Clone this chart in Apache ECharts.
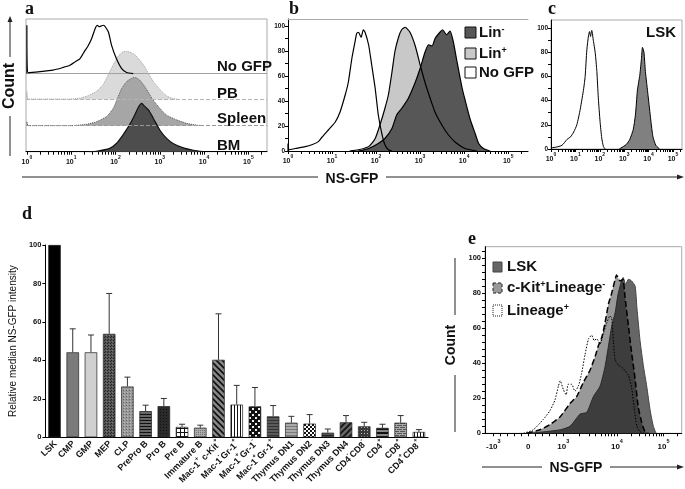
<!DOCTYPE html>
<html><head><meta charset="utf-8">
<script src="https://cdn.jsdelivr.net/npm/echarts@6.0.0/dist/echarts.min.js"></script>
<style>html,body{margin:0;padding:0;background:#fff}#c{width:685px;height:489px}</style>
</head><body><div id="c"></div>
<script>
// ================= DATA =================
// log10 fluorescence decades shown on panels a-c
const logTicks = [0, 1, 2, 3, 4, 5];
const logTickLabels = ['10⁰', '10¹', '10²', '10³', '10⁴', '10⁵'];
// panel a : [log10 NS-GFP, % of mode]
const aNoGfp = [[0,0],[0,100],[0.03,2],[0.3,4],[0.59,7],[0.8,12],[0.97,17],[1.1,25],[1.2,31],[1.3,46],[1.38,57],[1.46,72],[1.54,93],[1.59,100],[1.63,97],[1.69,99],[1.73,100],[1.76,98],[1.84,86],[1.91,59],[2.02,31],[2.14,10],[2.25,2],[2.4,0]];
const aPB = [[0,0],[0,18],[0.03,1],[0.97,1],[1.2,3],[1.35,7],[1.57,17],[1.72,31],[1.84,52],[1.95,72],[2.06,90],[2.17,99],[2.25,100],[2.36,97],[2.45,92],[2.51,86],[2.63,72],[2.74,55],[2.85,38],[3.0,21],[3.15,8],[3.3,2],[3.45,0]];
const aSpleen = [[0,0],[0,8],[0.03,0],[1.0,0],[1.35,3],[1.57,8],[1.8,19],[1.95,36],[2.06,60],[2.14,77],[2.25,91],[2.36,98],[2.44,100],[2.55,94],[2.66,81],[2.78,63],[2.85,53],[3.0,36],[3.15,22],[3.38,12],[3.6,5],[3.83,1],[3.98,0]];
const aBM = [[1.4,0],[1.57,1],[1.87,7],[2.02,17],[2.17,35],[2.32,56],[2.44,77],[2.51,91],[2.59,100],[2.66,94],[2.74,87],[2.85,70],[3.0,45],[3.15,28],[3.3,17],[3.53,8],[3.76,3],[3.98,0]];
// panel b
const bNoGfp = [[0,0],[0,6],[0.03,1],[0.16,2],[0.39,3.5],[0.54,5],[0.69,7.5],[0.77,11],[0.92,17],[1.07,23],[1.18,31],[1.3,45],[1.37,55],[1.45,74],[1.52,87],[1.56,94],[1.6,95],[1.66,91],[1.71,97],[1.75,95],[1.83,85],[1.9,69],[1.98,50],[2.05,29],[2.13,14],[2.2,5],[2.28,1],[2.36,0]];
const bLinPos = [[1.4,0],[1.6,1],[1.83,3.5],[1.98,10],[2.09,21],[2.2,34],[2.28,45],[2.36,63],[2.43,80],[2.51,91],[2.58,97],[2.66,99],[2.77,95],[2.89,84],[3.0,69],[3.11,55],[3.23,42],[3.34,31],[3.49,21],[3.64,13],[3.8,7],[4.02,2],[4.29,0]];
const bLinNeg = [[1.6,0],[1.83,2],[2.05,6],[2.2,10],[2.36,18],[2.47,29],[2.58,34],[2.73,42],[2.89,55],[3.0,66],[3.11,79],[3.19,85],[3.27,84],[3.34,90],[3.45,95],[3.51,97],[3.6,93],[3.68,96],[3.75,88],[3.83,73],[3.95,51],[4.02,41],[4.14,25],[4.25,14],[4.33,6],[4.44,2],[4.59,0]];
// panel c
const cNoGfp = [[0,0],[0.05,1],[0.2,1.5],[0.45,3],[0.66,8],[0.8,10],[0.93,14],[1.06,20],[1.2,33],[1.34,50],[1.4,60],[1.47,82],[1.54,94],[1.58,97],[1.62,93],[1.67,98],[1.74,89],[1.81,80],[1.88,64],[1.94,42],[2.01,23],[2.08,9],[2.15,2],[2.22,0]];
const cLsk = [[2.8,0],[2.96,2],[3.1,4],[3.23,8],[3.37,16],[3.46,28],[3.54,48],[3.6,56],[3.64,61],[3.71,75],[3.75,84],[3.81,80],[3.87,64],[3.98,44],[4.09,24],[4.18,10],[4.3,3],[4.45,0]];
// panel d
const dCategories = ['LSK','CMP','GMP','MEP','CLP','PrePro B','Pro B','Pre B','Immature B','Mac-1⁺ c-Kit⁺','Mac-1⁻Gr-1⁺','Mac-1⁺Gr-1⁻','Mac-1⁺Gr-1⁺','Thymus DN1','Thymus DN2','Thymus DN3','Thymus DN4','CD4⁻CD8⁻','CD4⁺','CD8⁺','CD4⁺CD8⁺'];
const dValues = [100,44.2,44.2,53.8,26.4,13.6,16.2,5.4,5.0,40.3,17.0,16.1,10.9,7.6,7.1,2.4,7.8,5.7,4.9,7.6,2.8];
const dErrorTop = [null,56.4,53.2,74.8,31.3,16.7,20.2,6.8,6.3,64.2,27.0,25.9,16.5,10.9,11.8,4.3,11.3,7.8,6.8,11.3,4.0];
// panel e : [display position on biexponential axis, % of mode]
const eTickPos = [-1, 0, 1, 2.53, 3.86];
const eTickLabels = ['-10³', '0', '10³', '10⁴', '10⁵'];
const eLsk = [[0.05,0],[0.52,1],[0.91,2],[1.19,4],[1.48,11],[1.67,12],[1.86,21],[2.05,27],[2.19,38],[2.29,50],[2.38,61],[2.48,69],[2.57,80],[2.71,89],[2.78,85],[2.86,88],[2.95,87],[3.05,84],[3.1,72],[3.19,53],[3.29,38],[3.38,27],[3.48,13],[3.57,4],[3.65,0]];
const eCkit = [[-0.04,0],[0.33,2],[0.62,5],[0.91,9.5],[1.19,17],[1.38,21],[1.57,29],[1.76,36],[1.91,44],[2.0,50],[2.1,55],[2.19,63],[2.29,74],[2.38,80],[2.48,88],[2.52,90.5],[2.62,87],[2.7,88],[2.76,78],[2.86,61],[2.95,46],[3.05,31],[3.14,15],[3.24,6],[3.33,1],[3.43,0]];
const eLinPos = [[-0.14,0],[0.14,2],[0.43,8],[0.62,13],[0.76,19],[0.86,27],[0.91,30],[1.0,25],[1.08,22],[1.14,28],[1.24,28],[1.33,24],[1.43,27],[1.52,34],[1.62,45],[1.72,54],[1.81,56],[1.88,53],[1.95,54],[2.05,51],[2.14,57],[2.24,63],[2.33,67],[2.38,66],[2.43,52],[2.48,42],[2.57,39],[2.71,37],[2.86,33],[2.95,26],[3.02,15],[3.1,4],[3.19,1],[3.3,0]];
const countTicks = [0, 20, 40, 60, 80, 100];

// ================= STYLE HELPERS =================
const FONT = "'Liberation Sans', Arial, sans-serif";
const NARROW = "'Liberation Sans Narrow', 'Liberation Sans', Arial, sans-serif";
const SERIF = "'Liberation Serif', 'DejaVu Serif', serif";
const SUP = {'⁺':'+','⁻':'-','⁰':'0','¹':'1','²':'2','³':'3','⁴':'4','⁵':'5'};
function supRich(str){
  let out='', buf='';
  for (const ch of str){
    if (SUP[ch]!==undefined){ if(buf){out+='{n|'+buf+'}';buf='';} out+='{s|'+SUP[ch]+'}'; }
    else buf+=ch;
  }
  if (buf) out+='{n|'+buf+'}';
  return out;
}
const tickRich = {
  n:{fontSize:7, fontWeight:'bold', fontFamily:FONT, color:'#111', padding:[4,0,0,0]},
  s:{fontSize:5, fontWeight:'bold', fontFamily:FONT, color:'#111', verticalAlign:'top'}
};
const catRich = {
  n:{fontSize:9, fontWeight:'bold', fontFamily:FONT, color:'#111', padding:[3,0,0,0]},
  s:{fontSize:6, fontWeight:'bold', fontFamily:FONT, color:'#111', verticalAlign:'top'}
};
function shift(arr, off){ return arr.map(p => [p[0], p[1] + off]); }
function minorLog(max){ const r=[]; for(let n=0;n<6;n++) for(let k=2;k<10;k++){ const v=n+Math.log10(k); if(v<=max) r.push(v);} return r; }
function pat(w,h,fn){ const c=document.createElement('canvas'); c.width=w; c.height=h; const g=c.getContext('2d'); fn(g,w,h); return {image:c, repeat:'repeat'}; }
function fill(g,col,x,y,w,h){ g.fillStyle=col; g.fillRect(x,y,w,h); }
const dFills = [
  '#000', '#7b7b7b', '#d0d0d0',
  pat(3,3,g=>{fill(g,'#555',0,0,3,3);fill(g,'#222',0,0,1,1);fill(g,'#222',2,1,1,1);fill(g,'#777',1,2,1,1);}),
  pat(3,3,g=>{fill(g,'#999',0,0,3,3);fill(g,'#666',0,0,1,1);fill(g,'#bbb',1,2,1,1);}),
  pat(1,3,g=>{fill(g,'#666',0,0,1,3);fill(g,'#111',0,0,1,1);}),
  pat(3,3,g=>{fill(g,'#2a2a2a',0,0,3,3);fill(g,'#111',1,1,1,1);}),
  pat(4,4,g=>{fill(g,'#fff',0,0,4,4);fill(g,'#111',0,0,4,1);fill(g,'#111',0,0,1,4);}),
  pat(2,2,g=>{fill(g,'#aaa',0,0,2,2);fill(g,'#777',0,0,1,1);}),
  pat(6,6,g=>{fill(g,'#888',0,0,6,6);g.strokeStyle='#111';g.lineWidth=1.6;g.beginPath();g.moveTo(-1,-1);g.lineTo(7,7);g.moveTo(-4,2);g.lineTo(4,10);g.moveTo(2,-4);g.lineTo(10,4);g.stroke();}),
  pat(3,1,g=>{fill(g,'#fff',0,0,3,1);fill(g,'#111',0,0,1,1);}),
  pat(6,6,g=>{fill(g,'#111',0,0,6,6);fill(g,'#eee',0,0,2,2);fill(g,'#eee',3,3,2,2);}),
  pat(1,3,g=>{fill(g,'#5a5a5a',0,0,1,3);fill(g,'#333',0,0,1,1);}),
  pat(1,3,g=>{fill(g,'#aaa',0,0,1,3);fill(g,'#7a7a7a',0,0,1,1);}),
  pat(4,4,g=>{fill(g,'#fff',0,0,4,4);fill(g,'#111',0,0,2,2);fill(g,'#111',2,2,2,2);}),
  pat(1,3,g=>{fill(g,'#555',0,0,1,3);fill(g,'#222',0,0,1,1);}),
  pat(6,6,g=>{fill(g,'#666',0,0,6,6);g.strokeStyle='#111';g.lineWidth=1.6;g.beginPath();g.moveTo(-1,7);g.lineTo(7,-1);g.moveTo(-4,4);g.lineTo(4,-4);g.moveTo(2,10);g.lineTo(10,2);g.stroke();}),
  pat(3,3,g=>{fill(g,'#3a3a3a',0,0,3,3);fill(g,'#bbb',1,1,1,1);}),
  pat(1,4,g=>{fill(g,'#888',0,0,1,4);fill(g,'#111',0,0,1,2);}),
  pat(6,4,g=>{fill(g,'#555',0,0,6,4);fill(g,'#aaa',0,0,6,1);fill(g,'#aaa',0,0,1,2);fill(g,'#aaa',0,2,6,1);fill(g,'#aaa',3,2,1,2);}),
  pat(3,1,g=>{fill(g,'#fff',0,0,3,1);fill(g,'#111',0,0,1,1);})
];
function baseline(v,type,color){ return {silent:true, symbol:'none', label:{show:false}, lineStyle:{color:color,type:type,width:1}, data:[{yAxis:v}], animation:false}; }
function logAxis(grid,min,max){
  return {type:'value', gridIndex:grid, position:'bottom', min:min, max:max,
    axisLine:{show:true, onZero:false, lineStyle:{color:'#000',width:1}},
    axisTick:{show:true, customValues:logTicks.concat(minorLog(max)), length:3, lineStyle:{color:'#000'}},
    axisLabel:{customValues:logTicks, margin:3, formatter:v=>supRich(logTickLabels[logTicks.indexOf(v)]||''), rich:tickRich},
    splitLine:{show:false}};
}
function countAxis(grid,max,fs,minor,margin){
  return {type:'value', gridIndex:grid, position:'left', min:0, max:max,
    axisLine:{show:true, onZero:false, lineStyle:{color:'#000',width:1}},
    axisTick:{show:true, customValues:countTicks.concat(minor), length:3, lineStyle:{color:'#000'}},
    axisLabel:{show:true, customValues:countTicks, fontSize:fs, fontWeight:'bold', fontFamily:FONT, color:'#111', margin:margin||3},
    splitLine:{show:false}};
}
const eMinor = [-0.8,-0.6,-0.4,-0.2,0.2,0.4,0.6,0.8];
[2,3,4,5,6,7,8,9].forEach(k=>{ eMinor.push(1+1.53*Math.log10(k)); eMinor.push(2.53+1.33*Math.log10(k)); });
eMinor.push(3.86+1.33*Math.log10(2), 3.86+1.33*Math.log10(3));

// ================= AXES =================
const grids = [
  {left:26, top:19, width:241, height:132.7, show:true, borderColor:'#aaa', borderWidth:1},
  {left:288, top:19, width:240, height:132},
  {left:551, top:20, width:131, height:129, show:true, borderColor:'#aaa', borderWidth:1},
  {left:41, top:245, width:387, height:192.3},
  {left:485, top:246.7, width:196.7, height:186.6, show:true, borderColor:'#aaa', borderWidth:1}
];
const xAxes = [
  logAxis(0,-0.02,5.42),
  logAxis(1,0,5.45),
  {type:'value', gridIndex:1, position:'top', min:0, max:5.45, axisLine:{show:true,onZero:false,lineStyle:{color:'#aaa'}}, axisTick:{show:false}, axisLabel:{show:false}, splitLine:{show:false}},
  logAxis(2,0,5.37),
  {type:'category', gridIndex:3, position:'bottom', data:dCategories,
    axisLine:{onZero:false, lineStyle:{color:'#000',width:1}},
    axisTick:{alignWithLabel:true, length:3, lineStyle:{color:'#000'}},
    axisLabel:{rotate:45, interval:0, margin:4, formatter:v=>supRich(v), rich:catRich}},
  {type:'value', gridIndex:4, position:'bottom', min:-1.237, max:4.38,
    axisLine:{show:true, onZero:false, lineStyle:{color:'#000',width:1}},
    axisTick:{show:true, customValues:eTickPos.concat(eMinor), length:3, lineStyle:{color:'#000'}},
    axisLabel:{customValues:eTickPos, margin:5, formatter:v=>supRich(eTickLabels[eTickPos.indexOf(v)]||''),
      rich:{n:{fontSize:8,fontWeight:'bold',fontFamily:FONT,color:'#111',padding:[4,0,0,0]}, s:{fontSize:5.5,fontWeight:'bold',fontFamily:FONT,color:'#111',verticalAlign:'top'}}},
    splitLine:{show:false}}
];
const yAxes = [
  {type:'value', gridIndex:0, position:'left', min:0, max:275, axisLine:{show:false,onZero:false}, axisTick:{show:false}, axisLabel:{show:false}, splitLine:{show:false}},
  countAxis(1,105.6,6.5,[10,30,50,70,90]),
  countAxis(2,106.6,6.5,[10,30,50,70,90]),
  {type:'value', gridIndex:3, position:'left', min:0, max:100, interval:20,
    axisLine:{show:true, onZero:false, lineStyle:{color:'#000',width:1}},
    axisTick:{show:true, length:3, lineStyle:{color:'#000'}},
    axisLabel:{fontSize:7.5, fontWeight:'bold', fontFamily:FONT, color:'#111', margin:4},
    splitLine:{show:false},
    name:'Relative median NS-GFP intensity', nameLocation:'middle', nameGap:16, nameRotate:90,
    nameTextStyle:{fontSize:10, fontFamily:FONT, color:'#111'}},
  countAxis(4,106.6,7.5,[4,8,12,16,24,28,32,36,44,48,52,56,64,68,72,76,84,88,92,96,104],4)
];

// ================= SERIES =================
const S = [];
const L = (o)=>Object.assign({type:'line', symbol:'none', smooth:0.2, silent:true}, o);
// panel a
S.push(L({name:'PB', xAxisIndex:0, yAxisIndex:0, data:shift(aPB,108), z:2,
  lineStyle:{color:'#a0a0a0',width:1,type:'dotted'}, areaStyle:{color:'#dadada',opacity:1,origin:108},
  markLine:baseline(108,'dashed','#b5b5b5')}));
S.push(L({name:'Spleen', xAxisIndex:0, yAxisIndex:0, data:shift(aSpleen,54), z:3,
  lineStyle:{color:'#555',width:1,type:'dotted'}, areaStyle:{color:'#a6a6a6',opacity:1,origin:54},
  markLine:baseline(54,'dashed','#999')}));
S.push(L({name:'BM', xAxisIndex:0, yAxisIndex:0, data:aBM, z:4,
  lineStyle:{color:'#111',width:1.2}, areaStyle:{color:'#4d4d4d',opacity:1,origin:0}}));
S.push(L({name:'No GFP', xAxisIndex:0, yAxisIndex:0, data:shift(aNoGfp,162), z:6,
  lineStyle:{color:'#000',width:1.2}, markLine:baseline(162,'solid','#a0a0a0')}));
// panel b
S.push(L({name:'Lin+', xAxisIndex:1, yAxisIndex:1, data:bLinPos, z:2, lineStyle:{width:0,opacity:0}, areaStyle:{color:'#c8c8c8',opacity:1}}));
S.push(L({name:'Lin-', xAxisIndex:1, yAxisIndex:1, data:bLinNeg, z:3, lineStyle:{width:0,opacity:0}, areaStyle:{color:'#575757',opacity:1}}));
[bNoGfp,bLinPos,bLinNeg].forEach((d,i)=>S.push(L({name:'b-outline-'+i, xAxisIndex:1, yAxisIndex:1, data:d, z:5, lineStyle:{color:'#000',width:1.2}})));
// panel c
S.push(L({name:'LSK', xAxisIndex:3, yAxisIndex:2, data:cLsk, z:2, lineStyle:{color:'#000',width:1}, areaStyle:{color:'#808080',opacity:1}}));
S.push(L({name:'No GFP (c)', xAxisIndex:3, yAxisIndex:2, data:cNoGfp, z:3, lineStyle:{color:'#000',width:1}}));
// panel d
S.push({type:'bar', name:'NS-GFP', xAxisIndex:4, yAxisIndex:3, barWidth:12.5, silent:true,
  data:dValues.map((v,i)=>({value:v, itemStyle:{color:dFills[i], borderColor:'#222', borderWidth:0.7}})), z:2});
S.push({type:'custom', name:'error', xAxisIndex:4, yAxisIndex:3, silent:true, z:3,
  encode:{x:0, y:2},
  data:dErrorTop.map((t,i)=>[i, dValues[i], t]).filter(d=>d[2]!==null),
  renderItem:function(params, api){
    const x=api.value(0), v=api.value(1), t=api.value(2);
    const p0=api.coord([x,v]), p1=api.coord([x,t]);
    const st={stroke:'#333', lineWidth:1};
    return {type:'group', children:[
      {type:'line', shape:{x1:p0[0],y1:p0[1],x2:p1[0],y2:p1[1]}, style:st},
      {type:'line', shape:{x1:p1[0]-3,y1:p1[1],x2:p1[0]+3,y2:p1[1]}, style:st}
    ]};
  }});
// panel e
S.push(L({name:'LSK (e)', xAxisIndex:5, yAxisIndex:4, data:eLsk, z:2, lineStyle:{color:'#444',width:1}, areaStyle:{color:'#666',opacity:1}}));
S.push(L({name:'c-Kit+Lineage-', xAxisIndex:5, yAxisIndex:4, data:eCkit, z:3, lineStyle:{width:0,opacity:0}, areaStyle:{color:'rgba(0,0,0,0.4)',opacity:1}}));
S.push(L({name:'c-Kit+Lineage- outline', xAxisIndex:5, yAxisIndex:4, data:eCkit, z:4, lineStyle:{color:'#000',width:1.5,type:[6,3]}}));
S.push(L({name:'Lineage+', xAxisIndex:5, yAxisIndex:4, data:eLinPos, z:5, lineStyle:{color:'#000',width:1,type:[1.5,1.5]}}));

// ================= GRAPHICS (titles / legends / arrows) =================
const big = (size)=>'bold '+size+'px '+NARROW;
const txt = (x,y,text,font,extra)=>Object.assign({type:'text', x:x, y:y, silent:true, style:Object.assign({text:text, font:font, fill:'#111', textAlign:'left', textVerticalAlign:'middle'}, extra&&extra.style||{})}, extra&&extra.el||{});
const line = (x1,y1,x2,y2,color,w)=>({type:'line', silent:true, shape:{x1,y1,x2,y2}, style:{stroke:color||'#222', lineWidth:w||1}});
const arrow = (x,y,dir)=>({type:'polygon', silent:true, shape:{points: dir==='up'?[[x,y],[x-2.5,y+6],[x+2.5,y+6]]:[[x,y],[x-7,y-2.5],[x-7,y+2.5]]}, style:{fill:'#222'}});
const legRich = {n:{font:big(15), fill:'#111'}, s:{font:'bold 9px '+NARROW, fill:'#111', verticalAlign:'top'}};
const rtxt = (x,y,text)=>({type:'text', x:x, y:y, silent:true, style:{text:supRich(text), rich:legRich, textAlign:'left', textVerticalAlign:'middle'}});
const graphic = [
  txt(25,9,'a','bold 18px '+SERIF), txt(289,9,'b','bold 18px '+SERIF), txt(548,9,'c','bold 18px '+SERIF),
  txt(22,214,'d','bold 18px '+SERIF), txt(468,239,'e','bold 18px '+SERIF),
  // panel a texts
  txt(217,67,'No GFP',big(15)), txt(217,94,'PB',big(15)), txt(217,119,'Spleen',big(15)), txt(217,146,'BM',big(15)),
  txt(10,86,'Count',big(16),{style:{textAlign:'center'}, el:{rotation:Math.PI/2}}),
  line(10,22,10,57), arrow(10,16,'up'), line(10,116,10,156),
  // shared NS-GFP axis a-c
  txt(352,179,'NS-GFP',big(14),{style:{textAlign:'center'}}),
  line(22,177,318,177), line(386,177,677,177), arrow(684,177,'right'),
  // panel b legend
  {type:'rect', silent:true, shape:{x:465,y:27,width:11,height:11}, style:{fill:'#575757',stroke:'#111',lineWidth:1}},
  {type:'rect', silent:true, shape:{x:465,y:48,width:11,height:11}, style:{fill:'#c8c8c8',stroke:'#111',lineWidth:1}},
  {type:'rect', silent:true, shape:{x:465,y:67,width:11,height:11}, style:{fill:'#fff',stroke:'#111',lineWidth:1}},
  rtxt(479,33,'Lin⁻'), rtxt(479,54,'Lin⁺'), rtxt(479,73,'No GFP'),
  // panel c label
  txt(676,33,'LSK',big(15),{style:{textAlign:'right'}}),
  // panel e legend
  {type:'rect', silent:true, shape:{x:493,y:262,width:9,height:10}, style:{fill:'#666',stroke:'#444',lineWidth:1}},
  {type:'rect', silent:true, shape:{x:493,y:283,width:9,height:10}, style:{fill:'#999',stroke:'#222',lineWidth:1,lineDash:[3,2]}},
  {type:'rect', silent:true, shape:{x:493,y:305,width:9,height:11}, style:{fill:'#fff',stroke:'#222',lineWidth:1,lineDash:[1,1]}},
  rtxt(507,267,'LSK'), rtxt(507,288,'c-Kit⁺Lineage⁻'), rtxt(507,311,'Lineage⁺'),
  // panel e axis titles
  txt(451,345,'Count',big(14),{style:{textAlign:'center'}, el:{rotation:Math.PI/2}}),
  line(455,258,455,315), line(455,375,455,432),
  txt(576,468,'NS-GFP',big(14),{style:{textAlign:'center'}}),
  line(482,467,542,467), line(610,467,677,467), arrow(684,467,'right')
];

const chart = echarts.init(document.getElementById('c'), null, {renderer:'canvas'});
chart.setOption({
  animation:false,
  backgroundColor:'#fff',
  textStyle:{fontFamily:FONT},
  grid:grids, xAxis:xAxes, yAxis:yAxes, series:S, graphic:graphic
});
</script>
</body></html>
